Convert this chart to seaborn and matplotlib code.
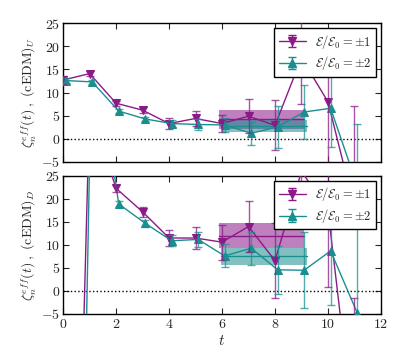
import numpy as np
import pandas as pd
import matplotlib
matplotlib.use("Agg")
import matplotlib.pyplot as plt
import seaborn as sns

# ---------------- data ----------------
t = [0, 1, 2, 3, 4, 5, 6, 7, 8, 9, 10, 11]
shift2 = 0.1  # horizontal offset of the second series

# upper panel (cEDM)_U
u_e1 = [12.7, 14.1, 7.7, 6.2, 3.3, 4.4, 3.3, 4.9, 2.9, 17.5, 8.0, -14.9]
u_e1_err = [0.8, 0.6, 0.5, 0.7, 1.2, 1.6, 1.8, 3.7, 5.4, 10.0, 14.0, 22.0]
u_e2 = [12.6, 12.3, 6.0, 4.3, 3.3, 3.1, 3.0, 1.2, 2.6, 5.8, 6.6, -10.1]
u_e2_err = [0.6, 0.4, 0.4, 0.5, 0.8, 1.1, 1.5, 2.5, 4.5, 5.8, 8.4, 13.4]

# lower panel (cEDM)_D
d_e1 = [-175.0, 40.0, 22.3, 17.2, 11.5, 11.5, 10.6, 14.0, 6.6, 26.0, 17.5, -31.5]
d_e1_err = [2.0, 2.0, 0.8, 1.1, 1.7, 2.3, 3.8, 5.5, 8.2, 11.3, 16.6, 30.0]
d_e2 = [-242.0, 58.0, 18.9, 14.7, 10.9, 11.2, 7.6, 9.3, 4.6, 4.5, 8.7, -4.7]
d_e2_err = [2.0, 2.0, 0.6, 0.8, 1.2, 1.6, 2.5, 3.6, 5.2, 8.2, 11.8, 27.0]

# fit bands: [center, error, t_min, t_max]
u_band_e1 = [4.2, 2.0, 5.9, 9.1]
u_band_e2 = [2.8, 1.3, 5.95, 9.2]
d_band_e1 = [12.0, 2.7, 5.9, 9.1]
d_band_e2 = [7.5, 1.8, 5.95, 9.2]

labels = [r'$\mathcal{E}/\mathcal{E}_0=\pm1$', r'$\mathcal{E}/\mathcal{E}_0=\pm2$']
ylabels = [r'$\zeta_n^{eff}(t)\;,\;({\rm cEDM})_U$', r'$\zeta_n^{eff}(t)\;,\;({\rm cEDM})_D$']
xticks = [0, 2, 4, 6, 8, 10, 12]
yticks = [-5, 0, 5, 10, 15, 20, 25]

# ---------------- style ----------------
sns.set_style("ticks")
plt.rcParams['font.family'] = ['DejaVu Serif']
plt.rcParams['mathtext.fontset'] = 'cm'
plt.rcParams['xtick.direction'] = 'in'
plt.rcParams['ytick.direction'] = 'in'
plt.rcParams['xtick.top'] = True
plt.rcParams['ytick.right'] = True

c1 = '#8b1a89'
c2 = '#1a8f8f'
ms = 5.5

fig = plt.figure(figsize=(4.07, 3.56), dpi=100)
ax_top = fig.add_axes([0.155, 0.545, 0.781, 0.390])
ax_bot = fig.add_axes([0.155, 0.118, 0.781, 0.388])

panels = [
    (ax_top, u_e1, u_e1_err, u_e2, u_e2_err, u_band_e1, u_band_e2, ylabels[0]),
    (ax_bot, d_e1, d_e1_err, d_e2, d_e2_err, d_band_e1, d_band_e2, ylabels[1]),
]

t2 = [v + shift2 for v in t]

for ax, y1, e1, y2, e2, b1, b2, ylab in panels:
    # bands
    for band, col in [(b1, c1), (b2, c2)]:
        cen, err, tmin, tmax = band
        ax.fill_between([tmin, tmax], [cen - err] * 2, [cen + err] * 2,
                        color=col, alpha=0.55, lw=0, zorder=1)
        ax.plot([tmin, tmax], [cen, cen], color=col, lw=1.0, zorder=2)

    df1 = pd.DataFrame({'t': t, 'y': y1})
    df2 = pd.DataFrame({'t': t2, 'y': y2})
    sns.lineplot(data=df1, x='t', y='y', ax=ax, color=c1, marker='v',
                 markersize=ms, markeredgecolor=c1, lw=1.0, legend=False, zorder=3)
    sns.lineplot(data=df2, x='t', y='y', ax=ax, color=c2, marker='^',
                 markersize=ms, markeredgecolor=c2, lw=1.0, legend=False, zorder=3)
    ax.errorbar(t, y1, yerr=e1, fmt='none', ecolor=c1, elinewidth=1.0,
                capsize=3, capthick=1.0, alpha=0.75, zorder=3)
    ax.errorbar(t2, y2, yerr=e2, fmt='none', ecolor=c2, elinewidth=1.0,
                capsize=3, capthick=1.0, alpha=0.75, zorder=3)

    ax.axhline(0, color='black', ls=':', lw=1.0, zorder=2)
    ax.set_xlim(0, 12)
    ax.set_ylim(-5, 25)
    ax.set_xticks(xticks)
    ax.set_yticks(yticks)
    ax.set_yticklabels([f'${v}$' for v in yticks], fontsize=10)
    ax.set_ylabel(ylab, fontsize=10, labelpad=2)
    ax.tick_params(length=4, width=0.8, pad=2)
    for sp in ax.spines.values():
        sp.set_linewidth(1.0)
        sp.set_color('black')

    # legend handles (errorbar style, drawn off-data)
    h1 = ax.errorbar([np.nan], [np.nan], yerr=[1.0], fmt='v-', color=c1,
                     ms=ms, lw=1.0, elinewidth=1.0, capsize=3)
    h2 = ax.errorbar([np.nan], [np.nan], yerr=[1.0], fmt='^-', color=c2,
                     ms=ms, lw=1.0, elinewidth=1.0, capsize=3)
    leg = ax.legend([h1, h2], labels, loc='upper right', fontsize=9,
                    fancybox=False, framealpha=1, edgecolor='black',
                    borderpad=0.35, handlelength=2.2, handletextpad=0.7,
                    labelspacing=0.3, borderaxespad=0.4)
    leg.get_frame().set_linewidth(1.0)

ax_top.set_xticklabels([])
ax_top.set_xlabel('')
ax_bot.set_xticklabels([f'${v}$' for v in xticks], fontsize=10)
ax_bot.set_xlabel(r'$t$', fontsize=11, labelpad=2)

fig.savefig('out.png', dpi=100)
